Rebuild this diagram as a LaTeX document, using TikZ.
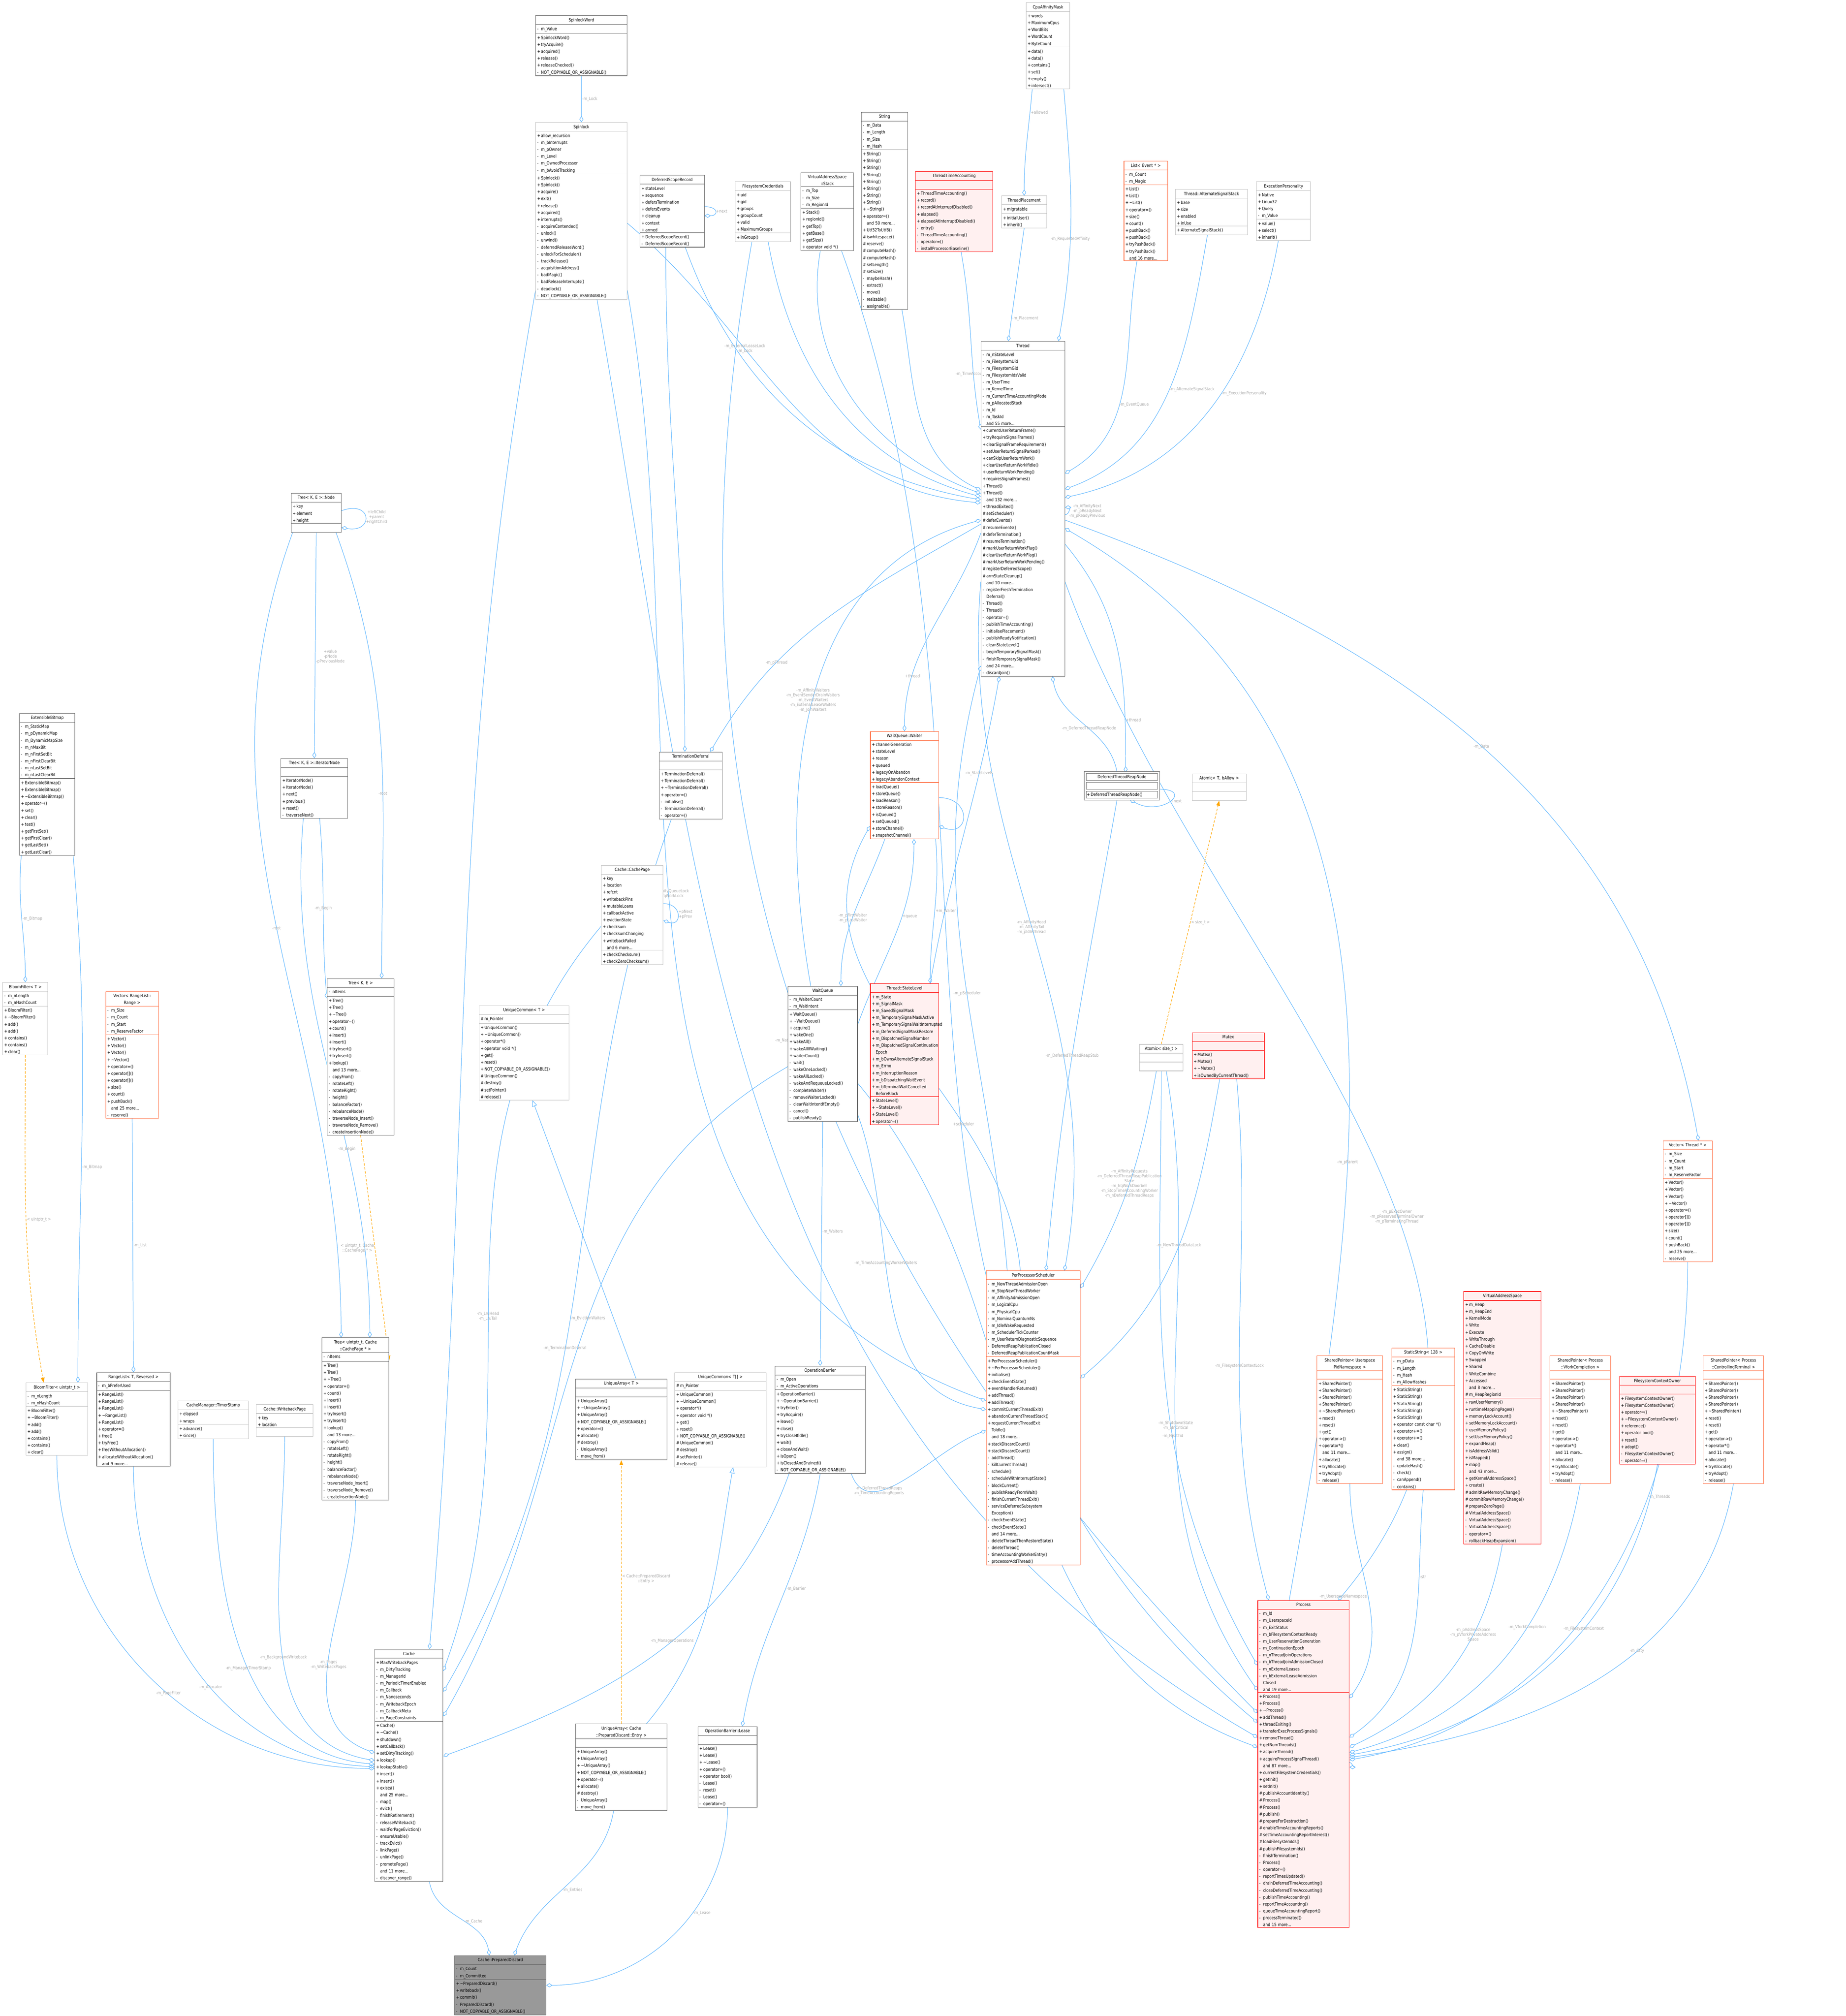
\documentclass[border=0pt]{standalone}
\usepackage{tikz}
\usepackage{graphicx}
\usepackage{fontspec}
\setmainfont{DejaVu Sans}[FakeStretch=0.86]
\usetikzlibrary{shapes.multipart, arrows.meta}
\definecolor{boxdark}{HTML}{666666}
\definecolor{boxlight}{HTML}{BFBFBF}
\definecolor{boxred}{HTML}{FF0000}
\definecolor{boxredfill}{HTML}{FFF0F0}
\definecolor{boxorange}{HTML}{FF6A3D}
\definecolor{boxfocus}{HTML}{999999}
\definecolor{edgeblue}{HTML}{63B8FF}
\definecolor{edgeorange}{HTML}{FFA500}
\definecolor{lblgray}{HTML}{A8A8A8}
\pgfdeclarelayer{background}
\pgfsetlayers{background,main}

\newcommand{\memberfont}{\fontsize{1.75pt}{2.775pt}\selectfont\hyphenpenalty=10000\exhyphenpenalty=10000}
\newcommand{\vis}[1]{\makebox[0.9em][l]{#1}}
\newcommand{\pub}{\vis{+}}
\newcommand{\pri}{\vis{-}}
\newcommand{\pro}{\vis{\#}}
\newcommand{\more}{\vis{}}
% one class box: style, name, x, y, width, title, attributes, methods
\newcommand{\umlclass}[8][]{%
  \pgfmathsetlengthmacro{\clswidth}{#5*0.01815cm-1.2pt}%
  \node[cls,#1,text width=\clswidth] (#2) at (#3,#4)
    {\centering\strut #6\par\nodepart{second}\raggedright\strut #7\par\nodepart{third}\raggedright\strut #8\par};}

\tikzset{
  cls/.style={rectangle split, rectangle split parts=3, draw=boxdark, fill=white,
    anchor=north west, inner xsep=0.6pt, inner ysep=0.3pt, font=\memberfont, line width=0.18pt},
  light/.style={draw=boxlight},
  hot/.style={draw=boxred, fill=boxredfill},
  trunc/.style={draw=boxorange},
  focus/.style={draw=boxdark, fill=boxfocus},
  use/.style={draw=edgeblue, line width=0.2pt, -{Diamond[open,length=2.5pt,width=1.6pt]}},
  inst/.style={draw=edgeorange, line width=0.2pt, dashed, dash pattern=on 1pt off 0.6pt, -{Triangle[length=2pt,width=1.5pt]}},
  inherit/.style={draw=edgeblue, line width=0.2pt, -{Triangle[open,length=2.5pt,width=2pt]}},
  lbl/.style={text=lblgray, font=\fontsize{1.7pt}{1.95pt}\selectfont, align=center, inner sep=0.25pt}
}

\begin{document}
\scalebox{2}{%
\begin{tikzpicture}[x=0.01815cm, y=-0.01815cm]
\useasboundingbox (0,0) rectangle (1434,1566);

% top row
\umlclass{spinlockword}{416}{12}{71}{SpinlockWord}{\pri m\_Value}{\pub SpinlockWord()\\\pub tryAcquire()\\\pub acquired()\\\pub release()\\\pub releaseChecked()\\\pri NOT\_COPYABLE\_OR\_ASSIGNABLE()}
\umlclass[light]{spinlock}{416}{95}{71}{Spinlock}{\pub allow\_recursion\\\pri m\_bInterrupts\\\pri m\_pOwner\\\pri m\_Level\\\pri m\_OwnedProcessor\\\pri m\_bAvoidTracking}{\pub Spinlock()\\\pub Spinlock()\\\pub acquire()\\\pub exit()\\\pub release()\\\pub acquired()\\\pub interrupts()\\\pri acquireContended()\\\pri unlock()\\\pri unwind()\\\pri deferredReleaseWord()\\\pri unlockForScheduler()\\\pri trackRelease()\\\pri acquisitionAddress()\\\pri badMagic()\\\pri badReleaseInterrupts()\\\pri deadlock()\\\pri NOT\_COPYABLE\_OR\_ASSIGNABLE()}
\umlclass{dsr}{497}{136}{50}{DeferredScopeRecord}{\pub stateLevel\\\pub sequence\\\pub defersTermination\\\pub defersEvents\\\pub cleanup\\\pub context\\\pub armed}{\pub DeferredScopeRecord()\\\pri DeferredScopeRecord()}
\umlclass[light]{fscred}{571}{141}{43}{FilesystemCredentials}{\pub uid\\\pub gid\\\pub groups\\\pub groupCount\\\pub valid\\\pub MaximumGroups}{\pub inGroup()}
\umlclass{vasstack}{622}{134}{41}{VirtualAddressSpace\\::Stack}{\pri m\_Top\\\pri m\_Size\\\pri m\_RegionId}{\pub Stack()\\\pub regionId()\\\pub getTop()\\\pub getBase()\\\pub getSize()\\\pub operator void *()}
\umlclass{string}{669}{87}{36}{String}{\pri m\_Data\\\pri m\_Length\\\pri m\_Size\\\pri m\_Hash}{\pub String()\\\pub String()\\\pub String()\\\pub String()\\\pub String()\\\pub String()\\\pub String()\\\pub String()\\\pub \textasciitilde String()\\\pub operator=()\\\more and 50 more...\\\pub Utf32ToUtf8()\\\pro iswhitespace()\\\pro reserve()\\\pro computeHash()\\\pro computeHash()\\\pro setLength()\\\pro setSize()\\\pri maybeHash()\\\pri extract()\\\pri move()\\\pri resizable()\\\pri assignable()}
\umlclass[hot]{tta}{711}{133}{60}{ThreadTimeAccounting}{}{\pub ThreadTimeAccounting()\\\pub record()\\\pub recordAtInterruptDisabled()\\\pub elapsed()\\\pub elapsedAtInterruptDisabled()\\\pri entry()\\\pri ThreadTimeAccounting()\\\pri operator=()\\\pri installProcessorBaseline()}
\umlclass[light]{cpumask}{797}{2}{34}{CpuAffinityMask}{\pub words\\\pub MaximumCpus\\\pub WordBits\\\pub WordCount\\\pub ByteCount}{\pub data()\\\pub data()\\\pub contains()\\\pub set()\\\pub empty()\\\pub intersect()}
\umlclass[light]{placement}{778}{152}{35}{ThreadPlacement}{\pub migratable}{\pub initialUser()\\\pub inherit()}
\umlclass[trunc]{eventlist}{873}{125}{34}{List< Event * >}{\pri m\_Count\\\pri m\_Magic}{\pub List()\\\pub List()\\\pub \textasciitilde List()\\\pub operator=()\\\pub size()\\\pub count()\\\pub pushBack()\\\pub pushBack()\\\pub tryPushBack()\\\pub tryPushBack()\\\more and 16 more...}
\umlclass[light]{altstack}{913}{147}{56}{Thread::AlternateSignalStack}{\pub base\\\pub size\\\pub enabled\\\pub inUse}{\pub AlternateSignalStack()}
\umlclass[light]{persona}{976}{141}{42}{ExecutionPersonality}{\pub Native\\\pub Linux32\\\pub Query\\\pri m\_Value}{\pub value()\\\pub select()\\\pub inherit()}

% thread
\umlclass{thread}{762}{265}{65}{Thread}{\pri m\_nStateLevel\\\pri m\_FilesystemUid\\\pri m\_FilesystemGid\\\pri m\_FilesystemIdsValid\\\pri m\_UserTime\\\pri m\_KernelTime\\\pri m\_CurrentTimeAccountingMode\\\pri m\_pAllocatedStack\\\pri m\_Id\\\pri m\_TaskId\\\more and 55 more...}{\pub currentUserReturnFrame()\\\pub tryRequireSignalFrames()\\\pub clearSignalFrameRequirement()\\\pub setUserReturnSignalParked()\\\pub canSkipUserReturnWork()\\\pub clearUserReturnWorkIfIdle()\\\pub userReturnWorkPending()\\\pub requiresSignalFrames()\\\pub Thread()\\\pub Thread()\\\more and 132 more...\\\pub threadExited()\\\pro setScheduler()\\\pro deferEvents()\\\pro resumeEvents()\\\pro deferTermination()\\\pro resumeTermination()\\\pro markUserReturnWorkFlag()\\\pro clearUserReturnWorkFlag()\\\pro markUserReturnWorkPending()\\\pro registerDeferredScope()\\\pro armStateCleanup()\\\more and 10 more...\\\pri registerFreshTermination\\\more Deferral()\\\pri Thread()\\\pri Thread()\\\pri operator=()\\\pri publishTimeAccounting()\\\pri initialisePlacement()\\\pri publishReadyNotification()\\\pri cleanStateLevel()\\\pri beginTemporarySignalMask()\\\pri finishTemporarySignalMask()\\\more and 24 more...\\\pri discardJoin()}

% left column
\umlclass{treenode}{226}{383}{39}{Tree< K, E >::Node}{\pub key\\\pub element\\\pub height}{}
\umlclass{iternode}{218}{589}{52}{Tree< K, E >::IteratorNode}{}{\pub IteratorNode()\\\pub IteratorNode()\\\pub next()\\\pub previous()\\\pub reset()\\\pri traverseNext()}
\umlclass{extbitmap}{15}{554}{43}{ExtensibleBitmap}{\pri m\_StaticMap\\\pri m\_pDynamicMap\\\pri m\_DynamicMapSize\\\pri m\_nMaxBit\\\pri m\_nFirstSetBit\\\pri m\_nFirstClearBit\\\pri m\_nLastSetBit\\\pri m\_nLastClearBit}{\pub ExtensibleBitmap()\\\pub ExtensibleBitmap()\\\pub \textasciitilde ExtensibleBitmap()\\\pub operator=()\\\pub set()\\\pub clear()\\\pub test()\\\pub getFirstSet()\\\pub getFirstClear()\\\pub getLastSet()\\\pub getLastClear()}
\umlclass{tree}{254}{760}{52}{Tree< K, E >}{\pri nItems}{\pub Tree()\\\pub Tree()\\\pub \textasciitilde Tree()\\\pub operator=()\\\pub count()\\\pub insert()\\\pub insert()\\\pub tryInsert()\\\pub tryInsert()\\\pub lookup()\\\more and 13 more...\\\pri copyFrom()\\\pri rotateLeft()\\\pri rotateRight()\\\pri height()\\\pri balanceFactor()\\\pri rebalanceNode()\\\pri traverseNode\_Insert()\\\pri traverseNode\_Remove()\\\pri createInsertionNode()}
\umlclass[light]{bloomT}{2}{763}{35}{BloomFilter< T >}{\pri m\_nLength\\\pri m\_nHashCount}{\pub BloomFilter()\\\pub \textasciitilde BloomFilter()\\\pub add()\\\pub add()\\\pub contains()\\\pub contains()\\\pub clear()}
\umlclass[trunc]{rangevec}{82}{770}{41}{Vector< RangeList::\\Range >}{\pri m\_Size\\\pri m\_Count\\\pri m\_Start\\\pri m\_ReserveFactor}{\pub Vector()\\\pub Vector()\\\pub Vector()\\\pub \textasciitilde Vector()\\\pub operator=()\\\pub operator[]()\\\pub operator[]()\\\pub size()\\\pub count()\\\pub pushBack()\\\more and 25 more...\\\pri reserve()}

% middle band
\umlclass{termdef}{512}{584}{49}{TerminationDeferral}{}{\pub TerminationDeferral()\\\pub TerminationDeferral()\\\pub \textasciitilde TerminationDeferral()\\\pub operator=()\\\pri initialise()\\\pri TerminationDeferral()\\\pri operator=()}
\umlclass[light]{cachepage}{467}{672}{48}{Cache::CachePage}{\pub key\\\pub location\\\pub refcnt\\\pub writebackPins\\\pub mutableLoans\\\pub callbackActive\\\pub evictionState\\\pub checksum\\\pub checksumChanging\\\pub writebackFailed\\\more and 6 more...}{\pub checkChecksum()\\\pub checkZeroChecksum()}
\umlclass[trunc]{waiter}{676}{568}{53}{WaitQueue::Waiter}{\pub channelGeneration\\\pub stateLevel\\\pub reason\\\pub queued\\\pub legacyOnAbandon\\\pub legacyAbandonContext}{\pub loadQueue()\\\pub storeQueue()\\\pub loadReason()\\\pub storeReason()\\\pub isQueued()\\\pub setQueued()\\\pub storeChannel()\\\pub snapshotChannel()}
\umlclass{waitqueue}{612}{766}{54}{WaitQueue}{\pri m\_WaiterCount\\\pri m\_WaitIntent}{\pub WaitQueue()\\\pub \textasciitilde WaitQueue()\\\pub acquire()\\\pub wakeOne()\\\pub wakeAll()\\\pub wakeAllIfWaiting()\\\pub waiterCount()\\\pri wait()\\\pri wakeOneLocked()\\\pri wakeAllLocked()\\\pri wakeAndRequeueLocked()\\\pri completeWaiter()\\\pri removeWaiterLocked()\\\pri clearWaitIntentIfEmpty()\\\pri cancel()\\\pri publishReady()}
\umlclass[hot]{statelevel}{676}{764}{53}{Thread::StateLevel}{\pub m\_State\\\pub m\_SignalMask\\\pub m\_SavedSignalMask\\\pub m\_TemporarySignalMaskActive\\\pub m\_TemporarySignalWaitInterrupted\\\pub m\_DeferredSignalMaskRestore\\\pub m\_DispatchedSignalNumber\\\pub m\_DispatchedSignalContinuation\\\more Epoch\\\pub m\_bOwnsAlternateSignalStack\\\pub m\_Errno\\\pub m\_InterruptionReason\\\pub m\_bDispatchingWaitEvent\\\pub m\_bTerminalWaitCancelled\\\more BeforeBlock}{\pub StateLevel()\\\pub \textasciitilde StateLevel()\\\pub StateLevel()\\\pub operator=()}
\umlclass[double]{reapnode}{843}{600}{57}{DeferredThreadReapNode}{}{\pub DeferredThreadReapNode()}
\umlclass[light]{atomicT}{926}{601}{42}{Atomic< T, bAllow >}{}{}
\umlclass[light]{atomicsz}{885}{811}{34}{Atomic< size\_t >}{}{}
\umlclass[hot]{mutex}{926}{802}{56}{Mutex}{}{\pub Mutex()\\\pub Mutex()\\\pub \textasciitilde Mutex()\\\pub isOwnedByCurrentThread()}
\umlclass[trunc]{threadvec}{1292}{886}{38}{Vector< Thread * >}{\pri m\_Size\\\pri m\_Count\\\pri m\_Start\\\pri m\_ReserveFactor}{\pub Vector()\\\pub Vector()\\\pub Vector()\\\pub \textasciitilde Vector()\\\pub operator=()\\\pub operator[]()\\\pub operator[]()\\\pub size()\\\pub count()\\\pub pushBack()\\\more and 25 more...\\\pri reserve()}
\umlclass[light]{uniqcommon}{372}{781}{70}{UniqueCommon< T >}{\pro m\_Pointer}{\pub UniqueCommon()\\\pub \textasciitilde UniqueCommon()\\\pub operator*()\\\pub operator void *()\\\pub get()\\\pub reset()\\\pub NOT\_COPYABLE\_OR\_ASSIGNABLE()\\\pro UniqueCommon()\\\pro destroy()\\\pro setPointer()\\\pro release()}
\umlclass[trunc]{pps}{766}{987}{73}{PerProcessorScheduler}{\pri m\_NewThreadAdmissionOpen\\\pri m\_StopNewThreadWorker\\\pri m\_AffinityAdmissionOpen\\\pri m\_LogicalCpu\\\pri m\_PhysicalCpu\\\pri m\_NominalQuantumNs\\\pri m\_IdleWakeRequested\\\pri m\_SchedulerTickCounter\\\pri m\_UserReturnDiagnosticSequence\\\pri DeferredReapPublicationClosed\\\pri DeferredReapPublicationCountMask}{\pub PerProcessorScheduler()\\\pub \textasciitilde PerProcessorScheduler()\\\pub initialise()\\\pub checkEventState()\\\pub eventHandlerReturned()\\\pub addThread()\\\pub addThread()\\\pub commitCurrentThreadExit()\\\pub abandonCurrentThreadStack()\\\pub requestCurrentThreadExit\\\more ToIdle()\\\more and 18 more...\\\pub stackDiscardCount()\\\pub stackDiscardCount()\\\pri addThread()\\\pri killCurrentThread()\\\pri schedule()\\\pri scheduleWithInterruptState()\\\pri blockCurrent()\\\pri publishReadyFromWait()\\\pri finishCurrentThreadExit()\\\pri serviceDeferredSubsystem\\\more Exception()\\\pri checkEventState()\\\pri checkEventState()\\\more and 14 more...\\\pri deleteThreadThenRestoreState()\\\pri deleteThread()\\\pri timeAccountingWorkerEntry()\\\pri processorAddThread()}

% lower middle
\umlclass{uniqarray}{447}{1071}{71}{UniqueArray< T >}{}{\pub UniqueArray()\\\pub \textasciitilde UniqueArray()\\\pub UniqueArray()\\\pub NOT\_COPYABLE\_OR\_ASSIGNABLE()\\\pub operator=()\\\pub allocate()\\\pro destroy()\\\pri UniqueArray()\\\pri move\_from()}
\umlclass[light]{uniqcommonarr}{524}{1066}{71}{UniqueCommon< T[] >}{\pro m\_Pointer}{\pub UniqueCommon()\\\pub \textasciitilde UniqueCommon()\\\pub operator*()\\\pub operator void *()\\\pub get()\\\pub reset()\\\pub NOT\_COPYABLE\_OR\_ASSIGNABLE()\\\pro UniqueCommon()\\\pro destroy()\\\pro setPointer()\\\pro release()}
\umlclass{opbarrier}{602}{1061}{70}{OperationBarrier}{\pri m\_Open\\\pri m\_ActiveOperations}{\pub OperationBarrier()\\\pub \textasciitilde OperationBarrier()\\\pub tryEnter()\\\pub tryAcquire()\\\pub leave()\\\pub close()\\\pub tryCloseIfIdle()\\\pub wait()\\\pub closeAndWait()\\\pub isOpen()\\\pub isClosedAndDrained()\\\pri NOT\_COPYABLE\_OR\_ASSIGNABLE()}
\umlclass[light]{bloomU}{20}{1074}{48}{BloomFilter< uintptr\_t >}{\pri m\_nLength\\\pri m\_nHashCount}{\pub BloomFilter()\\\pub \textasciitilde BloomFilter()\\\pub add()\\\pub add()\\\pub contains()\\\pub contains()\\\pub clear()}
\umlclass{rangelist}{75}{1066}{57}{RangeList< T, Reversed >}{\pri m\_bPreferUsed}{\pub RangeList()\\\pub RangeList()\\\pub RangeList()\\\pub \textasciitilde RangeList()\\\pub RangeList()\\\pub operator=()\\\pub free()\\\pub tryFree()\\\pub freeWithoutAllocation()\\\pub allocateWithoutAllocation()\\\more and 9 more...}
\umlclass[light]{timerstamp}{138}{1088}{55}{CacheManager::TimerStamp}{\pub elapsed\\\pub wraps}{\pub advance()\\\pub since()}
\umlclass[light]{wbpage}{199}{1091}{44}{Cache::WritebackPage}{\pub key\\\pub location}{}
\umlclass{treecache}{250}{1039}{52}{Tree< uintptr\_t, Cache\\::CachePage * >}{\pri nItems}{\pub Tree()\\\pub Tree()\\\pub \textasciitilde Tree()\\\pub operator=()\\\pub count()\\\pub insert()\\\pub insert()\\\pub tryInsert()\\\pub tryInsert()\\\pub lookup()\\\more and 13 more...\\\pri copyFrom()\\\pri rotateLeft()\\\pri rotateRight()\\\pri height()\\\pri balanceFactor()\\\pri rebalanceNode()\\\pri traverseNode\_Insert()\\\pri traverseNode\_Remove()\\\pri createInsertionNode()}
\umlclass{cache}{291}{1281}{53}{Cache}{\pub MaxWritebackPages\\\pri m\_DirtyTracking\\\pri m\_ManagerId\\\pri m\_PeriodicTimerEnabled\\\pri m\_Callback\\\pri m\_Nanoseconds\\\pri m\_WritebackEpoch\\\pri m\_CallbackMeta\\\pri m\_PageConstraints}{\pub Cache()\\\pub \textasciitilde Cache()\\\pub shutdown()\\\pub setCallback()\\\pub setDirtyTracking()\\\pub lookup()\\\pub lookupStable()\\\pub insert()\\\pub insert()\\\pub exists()\\\more and 25 more...\\\pri map()\\\pri evict()\\\pri finishRetirement()\\\pri releaseWriteback()\\\pri waitForPageEviction()\\\pri ensureUsable()\\\pri trackEvict()\\\pri linkPage()\\\pri unlinkPage()\\\pri promotePage()\\\more and 11 more...\\\pri discover\_range()}
\umlclass{uniqentry}{447}{1339}{71}{UniqueArray< Cache\\::PreparedDiscard::Entry >}{}{\pub UniqueArray()\\\pub UniqueArray()\\\pub \textasciitilde UniqueArray()\\\pub NOT\_COPYABLE\_OR\_ASSIGNABLE()\\\pub operator=()\\\pub allocate()\\\pro destroy()\\\pri UniqueArray()\\\pri move\_from()}
\umlclass{lease}{542}{1341}{46}{OperationBarrier::Lease}{}{\pub Lease()\\\pub Lease()\\\pub \textasciitilde Lease()\\\pub operator=()\\\pub operator bool()\\\pri Lease()\\\pri reset()\\\pri Lease()\\\pri operator=()}
\umlclass[focus]{discard}{353}{1519}{71}{Cache::PreparedDiscard}{\pri m\_Count\\\pri m\_Committed}{\pub \textasciitilde PreparedDiscard()\\\pub writeback()\\\pub commit()\\\pri PreparedDiscard()\\\pri NOT\_COPYABLE\_OR\_ASSIGNABLE()}

% right column
\umlclass[trunc]{spupn}{1023}{1053}{51}{SharedPointer< Userspace\\PidNamespace >}{}{\pub SharedPointer()\\\pub SharedPointer()\\\pub SharedPointer()\\\pub SharedPointer()\\\pub \textasciitilde SharedPointer()\\\pub reset()\\\pub reset()\\\pub get()\\\pub operator->()\\\pub operator*()\\\more and 11 more...\\\pub allocate()\\\pub tryAllocate()\\\pub tryAdopt()\\\pri release()}
\umlclass[trunc]{staticstr}{1081}{1047}{49}{StaticString< 128 >}{\pri m\_pData\\\pri m\_Length\\\pri m\_Hash\\\pri m\_AllowHashes}{\pub StaticString()\\\pub StaticString()\\\pub StaticString()\\\pub StaticString()\\\pub StaticString()\\\pub operator const char *()\\\pub operator+=()\\\pub operator+=()\\\pub clear()\\\pub assign()\\\more and 38 more...\\\pri updateHash()\\\pri check()\\\pri canAppend()\\\pri contains()}
\umlclass[hot]{vas}{1137}{1003}{60}{VirtualAddressSpace}{\pub m\_Heap\\\pub m\_HeapEnd\\\pub KernelMode\\\pub Write\\\pub Execute\\\pub WriteThrough\\\pub CacheDisable\\\pub CopyOnWrite\\\pub Swapped\\\pub Shared\\\pub WriteCombine\\\pub Accessed\\\more and 8 more...\\\pro m\_HeapRegionId}{\pub rawUserMemory()\\\pub runtimeMappingPages()\\\pub memoryLockAccount()\\\pub setMemoryLockAccount()\\\pub userMemoryPolicy()\\\pub setUserMemoryPolicy()\\\pub expandHeap()\\\pub isAddressValid()\\\pub isMapped()\\\pub map()\\\more and 43 more...\\\pub getKernelAddressSpace()\\\pub create()\\\pro admitRawMemoryChange()\\\pro commitRawMemoryChange()\\\pro prepareZeroPage()\\\pro VirtualAddressSpace()\\\pri VirtualAddressSpace()\\\pri VirtualAddressSpace()\\\pri operator=()\\\pri rollbackHeapExpansion()}
\umlclass[trunc]{spvfork}{1204}{1053}{47}{SharedPointer< Process\\::VforkCompletion >}{}{\pub SharedPointer()\\\pub SharedPointer()\\\pub SharedPointer()\\\pub SharedPointer()\\\pub \textasciitilde SharedPointer()\\\pub reset()\\\pub reset()\\\pub get()\\\pub operator->()\\\pub operator*()\\\more and 11 more...\\\pub allocate()\\\pub tryAllocate()\\\pub tryAdopt()\\\pri release()}
\umlclass[hot]{fsctx}{1258}{1069}{59}{FilesystemContextOwner}{}{\pub FilesystemContextOwner()\\\pub FilesystemContextOwner()\\\pub operator=()\\\pub \textasciitilde FilesystemContextOwner()\\\pub reference()\\\pub operator bool()\\\pub reset()\\\pub adopt()\\\pri FilesystemContextOwner()\\\pri operator=()}
\umlclass[trunc]{spctty}{1323}{1053}{47}{SharedPointer< Process\\::ControllingTerminal >}{}{\pub SharedPointer()\\\pub SharedPointer()\\\pub SharedPointer()\\\pub SharedPointer()\\\pub \textasciitilde SharedPointer()\\\pub reset()\\\pub reset()\\\pub get()\\\pub operator->()\\\pub operator*()\\\more and 11 more...\\\pub allocate()\\\pub tryAllocate()\\\pub tryAdopt()\\\pri release()}
\umlclass[hot]{process}{977}{1243}{71}{Process}{\pri m\_Id\\\pri m\_UserspaceId\\\pri m\_ExitStatus\\\pri m\_bFilesystemContextReady\\\pri m\_UserReservationGeneration\\\pri m\_ContinuationEpoch\\\pri m\_nThreadJoinOperations\\\pri m\_bThreadJoinAdmissionClosed\\\pri m\_nExternalLeases\\\pri m\_bExternalLeaseAdmission\\\more Closed\\\more and 19 more...}{\pub Process()\\\pub Process()\\\pub \textasciitilde Process()\\\pub addThread()\\\pub threadExiting()\\\pub transferExecProcessSignals()\\\pub removeThread()\\\pub getNumThreads()\\\pub acquireThread()\\\pub acquireProcessSignalThread()\\\more and 87 more...\\\pub currentFilesystemCredentials()\\\pub getInit()\\\pub setInit()\\\pro publishAccountIdentity()\\\pro Process()\\\pro Process()\\\pro publish()\\\pro prepareForDestruction()\\\pro enableTimeAccountingReports()\\\pro setTimeAccountingReportInterest()\\\pro loadFilesystemIds()\\\pro publishFilesystemIds()\\\pri finishTermination()\\\pri Process()\\\pri operator=()\\\pri reportTimesUpdated()\\\pri drainDeferredTimeAccounting()\\\pri closeDeferredTimeAccounting()\\\pri publishTimeAccounting()\\\pri reportTimeAccounting()\\\pri queueTimeAccountingReport()\\\pri processTerminated()\\\more and 15 more...}

\begin{pgfonlayer}{background}
% connectors into the upper boxes
\draw[use] (spinlockword) -- node[lbl,right]{-m\_Lock} (spinlock);
\draw[use] (spinlock.-15) to[out=-40,in=175] node[lbl,pos=.35]{-m\_ExternalLeaseLock\\-m\_Lock} (thread.172);
\draw[use] (spinlock.-60) to[out=-80,in=160] node[lbl,pos=.45]{-m\_AffinityQueueLock\\-m\_IrqWorkLock} (pps.160);
\draw[use] (spinlock.-120) to[out=-100,in=85] (cache.80);
\draw[use] (spinlock.-80) to[out=-80,in=150] (process.150);
\draw[use] (dsr.8) to[out=0,in=0,looseness=4] node[lbl,right]{+next} (dsr.-8);
\draw[use] (dsr.-100) to[out=-90,in=90] (termdef.100);
\draw[use] (dsr.-70) to[out=-70,in=170] (thread.168);
\draw[use] (fscred.-80) to[out=-80,in=165] (thread.164);
\draw[use] (fscred.-110) to[out=-100,in=135] node[lbl,pos=.5]{-m\_NativeFilesystemCredentials} (process.132);
\draw[use] (vasstack.-100) to[out=-100,in=160] (thread.160);
\draw[use] (vasstack.-70) to[out=-70,in=140] (process.138);
\draw[use] (string.-80) to[out=-80,in=155] (thread.156);
\draw[use] (tta.-80) to[out=-80,in=100] node[lbl,pos=.7]{-m\_TimeAccounting} (thread.118);
\draw[use] (cpumask.-110) to[out=-95,in=90] node[lbl,pos=.2,right]{+allowed} (placement.north);
\draw[use] (cpumask.-70) to[out=-85,in=80] node[lbl,pos=.6]{-m\_RequestedAffinity} (thread.78);
\draw[use] (placement.south) -- node[lbl,pos=.8,right]{-m\_Placement} (thread.95);
\draw[use] (eventlist.-100) to[out=-100,in=30] node[lbl,pos=.6,right]{-m\_EventQueue} (thread.40);
\draw[use] (altstack.-100) to[out=-100,in=20] node[lbl,pos=.5,right]{-m\_AlternateSignalStack} (thread.25);
\draw[use] (persona.-100) to[out=-100,in=12] node[lbl,pos=.45,right]{-m\_ExecutionPersonality} (thread.15);
\draw[use] (thread.-8) to[out=0,in=0,looseness=1.6] node[lbl,right]{-m\_AffinityNext\\-m\_pReadyNext\\-m\_pReadyPrevious} (thread.2);

% thread towards the middle band
\draw[use] (thread.-150) to[out=-110,in=90] node[lbl,pos=.75]{+thread} (waiter.north);
\draw[use] (thread.-160) to[out=-150,in=60] node[lbl,pos=.7]{-m\_pThread} (termdef.60);
\draw[use] (thread.-120) to[out=-95,in=80] node[lbl,pos=.5]{-m\_AffinityHead\\-m\_AffinityTail\\-m\_pIdleThread} (pps.78);
\draw[use] (pps.100) to[out=95,in=-105] node[lbl,pos=.45]{-m\_pScheduler} (thread.-105);
\draw[use] (statelevel.70) to[out=80,in=-100] node[lbl,pos=.7]{-m\_StateLevels} (thread.-98);
\draw[use] (reapnode.110) to[out=100,in=-80] node[lbl,pos=.45]{-m\_DeferredThreadReapNode} (thread.-80);
\draw[use] (thread.-40) to[out=-50,in=90] node[lbl,pos=.8,right]{+thread} (reapnode.75);
\draw[use] (reapnode.-5) to[out=0,in=-30,looseness=3] node[lbl,right]{+next} (reapnode.-60);
\draw[use] (thread.-60) to[out=-70,in=50] node[lbl,pos=.6]{-m\_pExecOwner\\-m\_pReservedTerminalOwner\\-m\_pTerminatingThread} (process.78);
\draw[use] (process.95) to[out=80,in=-30] node[lbl,pos=.35]{-m\_pParent} (thread.-25);
\draw[use] (thread.-15) to[out=-20,in=100] node[lbl,pos=.5]{-m\_Data} (threadvec.80);
\draw[use] (threadvec.-90) to[out=-90,in=10] node[lbl,pos=.35,right]{-m\_Threads} (process.5);

% wait queues
\draw[use] (waiter.-20) to[out=0,in=-20,looseness=3] (waiter.-50);
\draw[use] (waiter.-110) to[out=-110,in=90] node[lbl,pos=.55]{-m\_pFirstWaiter\\-m\_pLastWaiter} (waitqueue.75);
\draw[use] (waitqueue.40) to[out=70,in=-90] node[lbl,pos=.6,right]{+queue} (waiter.-80);
\draw[use] (waiter.-60) to[out=-85,in=90] node[lbl,pos=.5,right]{+m\_Waiter} (statelevel.70);
\draw[use] (waitqueue.100) to[out=100,in=-165] node[lbl,pos=.5]{-m\_AffinityWaiters\\-m\_EventSenderDrainWaiters\\-m\_EventWaiters\\-m\_ExternalLeaseWaiters\\-m\_JoinWaiters} (thread.-165);
\draw[use] (waitqueue.-60) to[out=-70,in=170] node[lbl,pos=.4]{-m\_TimeAccountingWorkerWaiters} (pps.170);
\draw[use] (waitqueue.-90) -- node[lbl,pos=.45,right]{-m\_Waiters} (opbarrier.north);
\draw[use] (waitqueue.-40) to[out=-50,in=160] (process.160);
\draw[use] (waitqueue.-160) to[out=-150,in=60] node[lbl,pos=.45]{-m\_EvictionWaiters} (cache.55);
\draw[use] (termdef.-120) to[out=-110,in=60] node[lbl,pos=.6]{-m\_TerminationDeferral} (cache.65);

% scheduler and process atomics
\draw[inst] (atomicsz.north) -- node[lbl,pos=.5,right]{< size\_t >} (atomicT.south);
\draw[use] (reapnode.-110) to[out=-100,in=85] node[lbl,pos=.55]{-m\_DeferredThreadReapStub} (pps.85);
\draw[use] (atomicsz.-110) to[out=-100,in=60] node[lbl,pos=.5]{-m\_AffinityRequests\\-m\_DeferredThreadReapPublication\\State\\-m\_IrqWorkDoorbell\\-m\_StopTimeAccountingWorker\\-m\_nDeferredThreadReaps} (pps.70);
\draw[use] (atomicsz.-90) to[out=-90,in=120] node[lbl,pos=.6]{-m\_NextTid} (process.115);
\draw[use] (atomicsz.-70) to[out=-80,in=125] node[lbl,pos=.55]{-m\_ShutdownState\\-m\_bInCritical} (process.122);
\draw[use] (mutex.-110) to[out=-100,in=40] node[lbl,pos=.5]{-m\_NewThreadDataLock} (pps.40);
\draw[use] (mutex.-70) to[out=-85,in=105] node[lbl,pos=.55]{-m\_FilesystemContextLock} (process.102);
\draw[use] (pps.95) to[out=95,in=-120] node[lbl,pos=.3]{+scheduler} (waiter.-130);

% trees, bitmaps, ranges
\draw[use] (treenode.5) to[out=20,in=-10,looseness=5] node[lbl,right]{+leftChild\\+parent\\+rightChild} (treenode.-30);
\draw[use] (treenode.south) -- node[lbl,pos=.55,right]{+value\\-pNode\\-pPreviousNode} (iternode.north);
\draw[use] (treenode.-45) to[out=-70,in=90] node[lbl,pos=.6]{-root} (tree.75);
\draw[use] (treenode.-140) to[out=-110,in=90] node[lbl,pos=.5]{-root} (treecache.100);
\draw[use] (iternode.-80) to[out=-85,in=95] node[lbl,pos=.5]{-m\_Begin} (tree.120);
\draw[use] (iternode.-110) to[out=-95,in=90] node[lbl,pos=.65]{-m\_Begin} (treecache.80);
\draw[inst] (tree.south) -- node[lbl,pos=.5,left]{< uintptr\_t, Cache\\::CachePage * >} (treecache.60);
\draw[use] (extbitmap.-110) to[out=-95,in=90] node[lbl,pos=.5,right]{-m\_Bitmap} (bloomT.north);
\draw[use] (extbitmap.-70) to[out=-85,in=90] node[lbl,pos=.6,right]{-m\_Bitmap} (bloomU.60);
\draw[inst] (bloomT.south) to[out=-90,in=100] node[lbl,pos=.5,right]{< uintptr\_t >} (bloomU.110);
\draw[use] (rangevec.south) -- node[lbl,pos=.5,right]{-m\_List} (rangelist.north);
\draw[use] (cachepage.20) to[out=0,in=-20,looseness=3] node[lbl,right]{+pNext\\+pPrev} (cachepage.-10);
\draw[use] (cachepage.-160) to[out=-130,in=70] node[lbl,pos=.55]{-m\_LruHead\\-m\_LruTail} (cache.70);

% into the cache
\draw[use] (bloomU.south) to[out=-90,in=180] node[lbl,pos=.55]{-m\_PageFilter} (cache.-175);
\draw[use] (rangelist.south) to[out=-90,in=178] node[lbl,pos=.55]{-m\_Allocator} (cache.-178);
\draw[use] (timerstamp.south) to[out=-90,in=175] node[lbl,pos=.55]{-m\_ManagerTimerStamp} (cache.178);
\draw[use] (wbpage.south) to[out=-90,in=170] node[lbl,pos=.55]{-m\_BackgroundWriteback} (cache.172);
\draw[use] (treecache.south) to[out=-90,in=160] node[lbl,pos=.55]{-m\_Pages\\-m\_WritebackPages} (cache.160);
\draw[use] (opbarrier.-120) to[out=-110,in=20] node[lbl,pos=.45]{-m\_ManagerOperations} (cache.15);
\draw[use] (opbarrier.-90) to[out=-100,in=80] node[lbl,pos=.45,right]{-m\_Barrier} (lease.70);
\draw[use] (opbarrier.-60) to[out=-70,in=-160] node[lbl,pos=.3]{-m\_DeferredThreadReaps\\-m\_TimeAccountingReports} (pps.-165);
\draw[inherit] (uniqarray.70) -- (uniqcommon.-80);
\draw[inst] (uniqentry.north) -- node[lbl,pos=.55,right]{< Cache::PreparedDiscard\\::Entry >} (uniqarray.south);
\draw[inherit] (uniqentry.60) to[out=50,in=-100] (uniqcommonarr.-75);
\draw[use] (cache.-80) to[out=-80,in=100] node[lbl,pos=.55,right]{-m\_Cache} (discard.110);
\draw[use] (uniqentry.-100) to[out=-100,in=70] node[lbl,pos=.55,right]{-m\_Entries} (discard.65);
\draw[use] (lease.south) to[out=-90,in=0] node[lbl,pos=.4,right]{-m\_Lease} (discard.east);

% into the process
\draw[use] (spupn.south) to[out=-90,in=55] node[lbl,pos=.5,left]{-m\_UserspaceNamespace} (process.55);
\draw[use] (staticstr.south) to[out=-95,in=35] node[lbl,pos=.3,right]{-str} (process.30);
\draw[use] (vas.south) to[out=-100,in=25] node[lbl,pos=.35]{-m\_pAddressSpace\\-m\_pVforkPrivateAddress\\Space} (process.20);
\draw[use] (spvfork.south) to[out=-100,in=15] node[lbl,pos=.4]{-m\_VforkCompletion} (process.14);
\draw[use] (fsctx.south) to[out=-100,in=10] node[lbl,pos=.4]{-m\_FilesystemContext} (process.11);
\draw[use] (spctty.south) to[out=-100,in=8] node[lbl,pos=.4]{-m\_Ctty} (process.8);
\draw[use] (process.2) to[out=0,in=0,looseness=1.5] (process.-4);
\end{pgfonlayer}
\end{tikzpicture}}
\end{document}
